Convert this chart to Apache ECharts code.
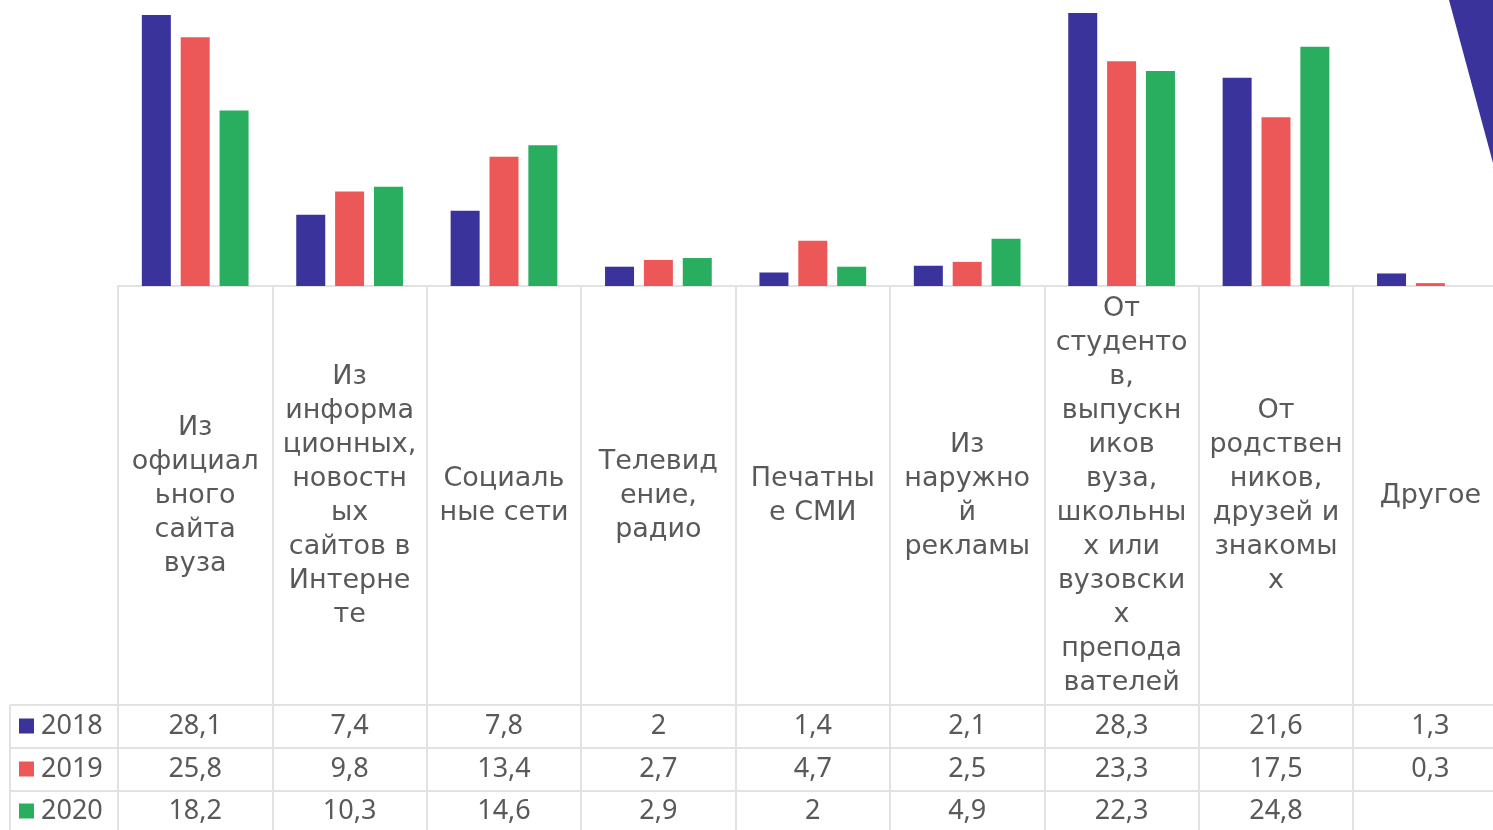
<!DOCTYPE html>
<html><head><meta charset="utf-8">
<script src="https://cdn.jsdelivr.net/npm/echarts@6/dist/echarts.min.js"></script>
<style>html,body{margin:0;padding:0;background:#fff}#c{width:1493px;height:830px}</style>
</head><body><div id="c"></div>
<script>
const categories = [
  "Из\nофициал\nьного\nсайта\nвуза",
  "Из\nинформа\nционных,\nновостн\nых\nсайтов в\nИнтерне\nте",
  "Социаль\nные сети",
  "Телевид\nение,\nрадио",
  "Печатны\nе СМИ",
  "Из\nнаружно\nй\nрекламы",
  "От\nстуденто\nв,\nвыпускн\nиков\nвуза,\nшкольны\nх или\nвузовски\nх\nпрепода\nвателей",
  "От\nродствен\nников,\nдрузей и\nзнакомы\nх",
  "Другое"
];
const years = ["2018", "2019", "2020"];
const v2018 = [28.1, 7.4, 7.8, 2, 1.4, 2.1, 28.3, 21.6, 1.3];
const v2019 = [25.8, 9.8, 13.4, 2.7, 4.7, 2.5, 23.3, 17.5, 0.3];
const v2020 = [18.2, 10.3, 14.6, 2.9, 2, 4.9, 22.3, 24.8, null];
const seriesValues = [v2018, v2019, v2020];
const colors = ['#3a339b', '#ec5858', '#29ae5f'];

const FONT = 'DejaVu Sans';
const NUMFONT = 'Noto Sans';
const TXT = '#595959';
const LINE = '#e2e2e2';
const W = 1493, H = 830;
const gridLeft = 118, gridWidth = 1389.6, baseY = 286;
const rowCenters = [726, 769, 811];
const rowLines = [705, 748, 791];

function fmt(v) { return v == null ? '' : String(v).replace('.', ','); }

const xAxes = [{
  type: 'category', data: categories, gridIndex: 0, position: 'bottom',
  axisLine: { show: true, lineStyle: { color: LINE, width: 2 } },
  axisTick: { show: true, length: H - baseY, lineStyle: { color: LINE, width: 2 } },
  axisLabel: { interval: 0, margin: 210, verticalAlign: 'middle', align: 'center',
    fontFamily: FONT, fontSize: 27, lineHeight: 34, color: TXT, hideOverlap: false }
}];
seriesValues.forEach((vals, r) => {
  xAxes.push({
    type: 'category', data: categories, gridIndex: 0, position: 'bottom',
    offset: rowCenters[r] - baseY,
    axisLine: { show: false }, axisTick: { show: false },
    axisLabel: { interval: 0, margin: 0, verticalAlign: 'middle', align: 'center',
      fontFamily: NUMFONT, fontSize: 27, lineHeight: 30, color: TXT, formatter: (v, i) => fmt(vals[i]) }
  });
});

const legends = years.map((y, i) => ({
  orient: 'vertical', left: 19, top: rowCenters[i] - 15,
  data: [y], icon: 'rect', itemWidth: 15, itemHeight: 15, itemGap: 0,
  textStyle: { fontFamily: NUMFONT, fontSize: 27, color: TXT, lineHeight: 30, padding: [0, 0, 0, 2] },
  selectedMode: false, padding: 0
}));

const graphics = [];
rowLines.forEach(y => graphics.push({ type: 'line', shape: { x1: 10, y1: y, x2: W, y2: y }, style: { stroke: LINE, lineWidth: 2 }, z: 1 }));
graphics.push({ type: 'line', shape: { x1: 10, y1: rowLines[0], x2: 10, y2: H }, style: { stroke: LINE, lineWidth: 2 }, z: 1 });
graphics.push({ type: 'polygon', shape: { points: [[1449, 0], [W, 0], [W, 163]] }, style: { fill: '#3a339b' }, z: 10 });

const option = {
  animation: false,
  backgroundColor: '#fff',
  textStyle: { fontFamily: FONT },
  color: colors,
  grid: { left: gridLeft, width: gridWidth, top: 0, bottom: H - baseY, containLabel: false, outerBoundsMode: 'none' },
  legend: legends,
  xAxis: xAxes,
  yAxis: { type: 'value', min: 0, max: baseY / 9.645, show: false, splitLine: { show: false } },
  series: years.map((y, i) => ({
    name: y, type: 'bar', xAxisIndex: 0, data: seriesValues[i],
    barWidth: 29, barGap: '34%', itemStyle: { color: colors[i] }
  })),
  graphic: graphics
};
const chart = echarts.init(document.getElementById('c'), null, { renderer: 'canvas' });
chart.setOption(option);
</script></body></html>
